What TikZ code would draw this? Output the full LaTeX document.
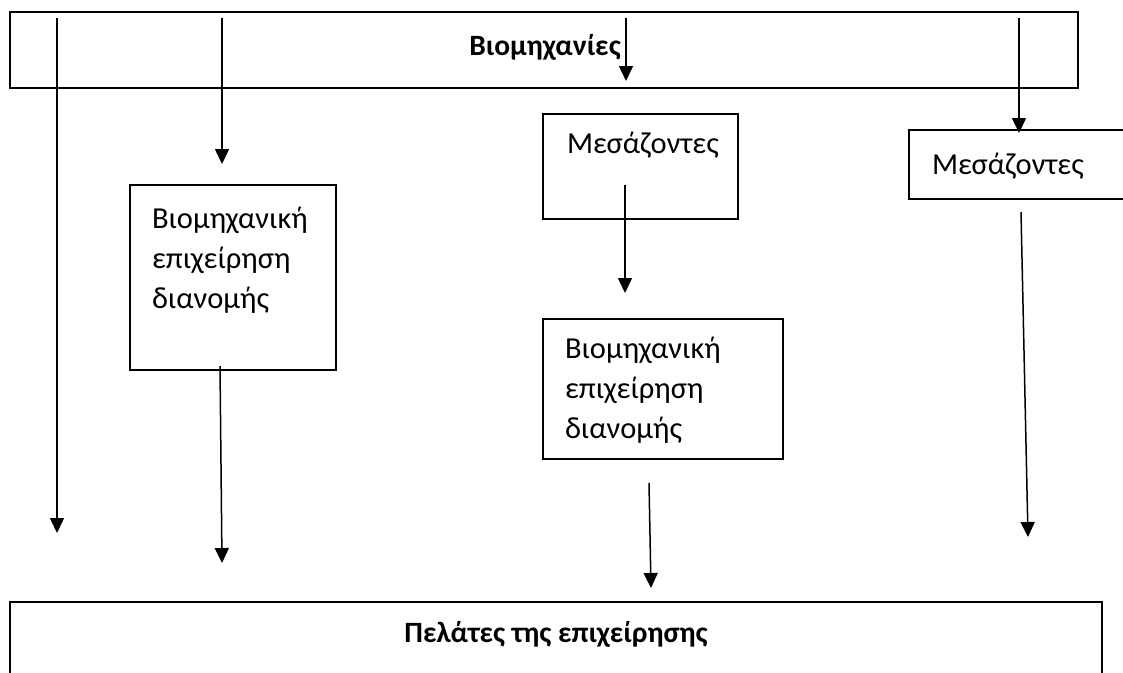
\documentclass[tikz,border=0pt]{standalone}
\usepackage{fontspec}
\setmainfont{Carlito}
\usetikzlibrary{arrows.meta}
\tikzset{
  box/.style={draw=black, line width=2pt, inner sep=0pt, outer sep=0pt},
  lbl/.style={inner sep=0pt, outer sep=0pt, anchor=base west, align=left,
              font=\fontsize{30.5}{40}\selectfont},
  ttl/.style={inner sep=0pt, outer sep=0pt, anchor=base,
              font=\fontsize{29.5}{34}\selectfont\bfseries},
  arr/.style={line width=1.5pt, -{Triangle[length=15pt,width=14pt]}},
}
\begin{document}
\begin{tikzpicture}[x=1pt,y=-1pt]
\clip (0,0) rectangle (1123,672);
\fill[white] (0,0) rectangle (1123,672);
% boxes
\draw[box] (10,12) rectangle (1078,88);
\node[ttl] (ttop) at (545,55) {Βιομηχανίες};
\draw[box] (543,114) rectangle (738,219);
\node[lbl] (tm1) at (567,153) {Μεσάζοντες};
\draw[box] (909,130) rectangle (1140,199);
\node[lbl] (tm2) at (932,174) {Μεσάζοντες};
\draw[box] (130,185) rectangle (336,370);
\node[lbl] (tb1) at (152,308) {Βιομηχανική\\επιχείρηση\\διανομής};
\draw[box] (543,319) rectangle (783,459);
\node[lbl] (tb2) at (565,438) {Βιομηχανική\\επιχείρηση\\διανομής};
\draw[box] (10,602) rectangle (1102,720);
\node[ttl] (tbot) at (556,642) {Πελάτες της επιχείρησης};
% arrow endpoints
\coordinate (a1s) at (57,18);   \coordinate (a1e) at (57,533);
\coordinate (a2s) at (222,18);  \coordinate (a2e) at (222,164);
\coordinate (a3s) at (626,18);  \coordinate (a3e) at (626,81);
\coordinate (a4s) at (1019,18); \coordinate (a4e) at (1019,133);
\coordinate (a5s) at (625,185); \coordinate (a5e) at (625,293);
\coordinate (a6s) at (220,366); \coordinate (a6e) at (222,563);
\coordinate (a7s) at (649,483); \coordinate (a7e) at (651,588);
\coordinate (a8s) at (1021,212);\coordinate (a8e) at (1028,537);
\draw[arr] (a1s) -- (a1e);
\draw[arr] (a2s) -- (a2e);
\draw[arr] (a3s) -- (a3e);
\draw[arr] (a4s) -- (a4e);
\draw[arr] (a5s) -- (a5e);
\draw[arr] (a6s) -- (a6e);
\draw[arr] (a7s) -- (a7e);
\draw[arr] (a8s) -- (a8e);
\end{tikzpicture}
\end{document}
